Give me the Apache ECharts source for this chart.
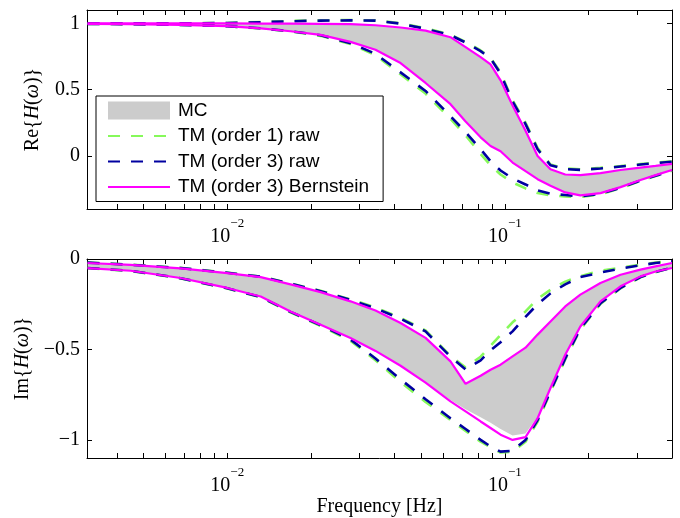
<!DOCTYPE html>
<html><head><meta charset="utf-8">
<script src="https://cdn.jsdelivr.net/npm/echarts@6/dist/echarts.min.js"></script>
<style>html,body{margin:0;padding:0;background:#fff}#c{width:680px;height:518px}</style>
</head><body><div id="c"></div>
<script>
// Frequency grid [Hz]
const freq = [0.00314, 0.00449, 0.00679, 0.0100, 0.0132, 0.0169, 0.0217, 0.0278, 0.0342, 0.0421, 0.0518, 0.0637, 0.0722, 0.0818, 0.0888, 0.0965, 0.1066, 0.1187, 0.1312, 0.146, 0.165, 0.187, 0.221, 0.261, 0.308, 0.349, 0.4];

// Real part
const reMcUp   = [1.0, 1.0, 0.999, 0.998, 0.997, 0.996, 0.995, 0.992, 0.983, 0.965, 0.94, 0.89, 0.815, 0.74, 0.685, 0.565, 0.375, 0.185, -0.005, -0.105, -0.143, -0.147, -0.132, -0.108, -0.09, -0.077, -0.062];
const reMcLo   = [0.996, 0.994, 0.989, 0.979, 0.963, 0.942, 0.914, 0.862, 0.803, 0.703, 0.553, 0.393, 0.263, 0.143, 0.078, 0.038, -0.047, -0.112, -0.172, -0.222, -0.272, -0.294, -0.277, -0.232, -0.18, -0.143, -0.104];
const reT1Up   = [1.0, 1.0, 1.0, 1.002, 1.01, 1.017, 1.022, 1.024, 1.022, 1.0, 0.962, 0.915, 0.86, 0.795, 0.74, 0.63, 0.42, 0.25, 0.06, -0.065, -0.095, -0.1, -0.09, -0.077, -0.062, -0.052, -0.04];
const reT1Lo   = [0.995, 0.993, 0.988, 0.978, 0.961, 0.938, 0.905, 0.843, 0.76, 0.615, 0.47, 0.28, 0.155, 0.015, -0.07, -0.14, -0.2, -0.245, -0.28, -0.298, -0.305, -0.31, -0.29, -0.243, -0.188, -0.152, -0.112];
const reT3Up   = [1.0, 1.0, 1.0, 1.001, 1.008, 1.015, 1.02, 1.022, 1.02, 0.997, 0.958, 0.91, 0.855, 0.79, 0.735, 0.62, 0.41, 0.24, 0.05, -0.07, -0.1, -0.105, -0.095, -0.08, -0.065, -0.055, -0.043];
const reT3Lo   = [0.995, 0.993, 0.988, 0.978, 0.962, 0.94, 0.91, 0.85, 0.77, 0.63, 0.49, 0.3, 0.18, 0.05, -0.04, -0.11, -0.17, -0.215, -0.26, -0.285, -0.295, -0.305, -0.285, -0.24, -0.185, -0.15, -0.11];
const reBernUp = [1.0, 1.0, 1.0, 0.999, 0.998, 0.997, 0.996, 0.993, 0.985, 0.968, 0.945, 0.895, 0.82, 0.745, 0.69, 0.57, 0.38, 0.19, 0.0, -0.1, -0.14, -0.145, -0.13, -0.106, -0.088, -0.075, -0.06];
const reBernLo = [0.995, 0.993, 0.988, 0.978, 0.962, 0.94, 0.912, 0.86, 0.8, 0.7, 0.55, 0.39, 0.26, 0.14, 0.075, 0.035, -0.05, -0.115, -0.175, -0.225, -0.275, -0.297, -0.28, -0.235, -0.182, -0.145, -0.106];

// Imaginary part
const imMcUp   = [-0.022, -0.033, -0.052, -0.078, -0.1, -0.14, -0.183, -0.234, -0.285, -0.354, -0.436, -0.566, -0.686, -0.645, -0.612, -0.584, -0.538, -0.49, -0.418, -0.345, -0.262, -0.197, -0.133, -0.087, -0.059, -0.041, -0.022];
const imMcLo   = [-0.05, -0.065, -0.105, -0.16, -0.207, -0.29, -0.363, -0.437, -0.508, -0.59, -0.683, -0.78, -0.83, -0.875, -0.905, -0.94, -0.975, -0.965, -0.87, -0.71, -0.527, -0.372, -0.233, -0.15, -0.095, -0.068, -0.049];
const imT1Up   = [-0.019, -0.031, -0.049, -0.075, -0.097, -0.135, -0.176, -0.223, -0.268, -0.325, -0.395, -0.535, -0.6, -0.54, -0.48, -0.42, -0.35, -0.29, -0.22, -0.17, -0.125, -0.095, -0.065, -0.048, -0.032, -0.02, -0.012];
const imT1Lo   = [-0.05, -0.066, -0.107, -0.163, -0.212, -0.295, -0.37, -0.452, -0.56, -0.68, -0.79, -0.89, -0.95, -1.01, -1.04, -1.07, -1.065, -1.01, -0.9, -0.735, -0.555, -0.39, -0.248, -0.162, -0.101, -0.073, -0.048];
const imT3Up   = [-0.02, -0.032, -0.05, -0.076, -0.098, -0.136, -0.178, -0.226, -0.272, -0.33, -0.4, -0.54, -0.61, -0.56, -0.505, -0.46, -0.4, -0.32, -0.25, -0.19, -0.14, -0.1, -0.075, -0.053, -0.035, -0.022, -0.012];
const imT3Lo   = [-0.05, -0.065, -0.106, -0.162, -0.21, -0.292, -0.366, -0.445, -0.55, -0.665, -0.775, -0.88, -0.94, -1.0, -1.036, -1.065, -1.06, -1.0, -0.89, -0.73, -0.55, -0.385, -0.245, -0.16, -0.1, -0.072, -0.047];
const imBernUp = [-0.022, -0.033, -0.052, -0.078, -0.1, -0.14, -0.183, -0.234, -0.285, -0.354, -0.436, -0.566, -0.69, -0.645, -0.612, -0.584, -0.538, -0.49, -0.418, -0.345, -0.262, -0.197, -0.133, -0.087, -0.059, -0.041, -0.022];
const imBernLo = [-0.05, -0.065, -0.105, -0.16, -0.207, -0.29, -0.363, -0.437, -0.508, -0.59, -0.683, -0.787, -0.842, -0.898, -0.934, -0.971, -1.0, -0.985, -0.88, -0.713, -0.529, -0.373, -0.234, -0.151, -0.096, -0.069, -0.05];

// Axes
const xMin = 0.003125, xMax = 0.4;
const xLabelVals = [0.01, 0.1];
const xTickVals = [0.004, 0.005, 0.006, 0.007, 0.008, 0.009, 0.01, 0.02, 0.03, 0.04, 0.05, 0.06, 0.07, 0.08, 0.09, 0.1, 0.2, 0.3, 0.4];
const reTicks = [0, 0.5, 1];
const imTicks = [-1, -0.5, 0];
const names = ['MC', 'TM (order 1) raw', 'TM (order 3) raw', 'TM (order 3) Bernstein'];

const SERIF = '"Liberation Serif","Times New Roman",serif';
const SANS = '"Liberation Sans",Arial,Helvetica,sans-serif';
const C_MC = '#cccccc', C_T1 = '#86f95a', C_T3 = '#0000a0', C_B = '#ff00ff';

function fmtY(v) { return (v < 0 ? '\u2212' : '') + Math.abs(v); }
function fmtX(v) { const e = Math.round(Math.log10(v)); return '{b|10}{s|' + (e < 0 ? '\u2212' : '') + Math.abs(e) + '}'; }

function xAxisDef(grid, pos, withLabels, name) {
  return {
    type: 'log', logBase: 10, gridIndex: grid, min: xMin, max: xMax, position: pos,
    axisLine: { show: true, onZero: false, lineStyle: { color: '#000', width: 1 } },
    axisTick: { show: true, inside: true, length: 5, customValues: xTickVals, lineStyle: { color: '#000', width: 1 } },
    axisLabel: {
      show: withLabels, customValues: xLabelVals, formatter: fmtX, margin: 8,
      rich: {
        b: { fontFamily: SERIF, fontSize: 20, color: '#000', lineHeight: 30, verticalAlign: 'bottom' },
        s: { fontFamily: SERIF, fontSize: 13, color: '#000', lineHeight: 12, verticalAlign: 'top' }
      }
    },
    splitLine: { show: false }, minorTick: { show: false },
    name: name || '', nameLocation: 'middle', nameGap: 38,
    nameTextStyle: { fontFamily: SERIF, fontSize: 20, color: '#000' }
  };
}
function yAxisDef(grid, pos, mn, mx, ticks, withLabels, name, gap) {
  return {
    type: 'value', gridIndex: grid, min: mn, max: mx, position: pos,
    axisLine: { show: true, onZero: false, lineStyle: { color: '#000', width: 1 } },
    axisTick: { show: true, inside: true, length: 5, customValues: ticks, lineStyle: { color: '#000', width: 1 } },
    axisLabel: { show: withLabels, customValues: ticks, formatter: fmtY, margin: 7, fontFamily: SERIF, fontSize: 20, color: '#000' },
    splitLine: { show: false },
    name: name || '', nameLocation: 'middle', nameGap: gap || 40, nameRotate: 90,
    nameTextStyle: { fontFamily: SERIF, fontSize: 20, color: '#000',
      rich: { i: { fontFamily: SERIF, fontSize: 20, fontStyle: 'italic', color: '#000' } } }
  };
}

function band(name, xi, yi, up, lo) {
  return {
    type: 'custom', name: name, xAxisIndex: xi, yAxisIndex: yi,
    itemStyle: { color: C_MC }, z: 1, silent: true,
    data: [[freq[0], up[0]]],
    renderItem: function (params, api) {
      if (params.dataIndex !== 0) return null;
      const pts = [];
      for (let i = 0; i < freq.length; i++) pts.push(api.coord([freq[i], up[i]]));
      for (let i = freq.length - 1; i >= 0; i--) pts.push(api.coord([freq[i], lo[i]]));
      return { type: 'polygon', shape: { points: pts }, style: { fill: C_MC, stroke: null } };
    }
  };
}
function line(name, xi, yi, vals, color, width, dash, z) {
  return {
    type: 'line', name: name, xAxisIndex: xi, yAxisIndex: yi,
    data: freq.map((f, i) => [f, vals[i]]),
    symbol: 'none', showSymbol: false, smooth: false, silent: true, z: z,
    lineStyle: { color: color, width: width, type: dash },
    itemStyle: { color: color }
  };
}

const series = [
  band(names[0], 0, 0, reMcUp, reMcLo),
  band(names[0], 2, 2, imMcUp, imMcLo),
  line(names[1], 0, 0, reT1Up, C_T1, 2.6, [12, 11], 2),
  line(names[1], 0, 0, reT1Lo, C_T1, 2.6, [12, 11], 2),
  line(names[1], 2, 2, imT1Up, C_T1, 2.6, [12, 11], 2),
  line(names[1], 2, 2, imT1Lo, C_T1, 2.6, [12, 11], 2),
  line(names[2], 0, 0, reT3Up, C_T3, 2.6, [12, 11], 3),
  line(names[2], 0, 0, reT3Lo, C_T3, 2.6, [12, 11], 3),
  line(names[2], 2, 2, imT3Up, C_T3, 2.6, [12, 11], 3),
  line(names[2], 2, 2, imT3Lo, C_T3, 2.6, [12, 11], 3),
  line(names[3], 0, 0, reBernUp, C_B, 2.2, 'solid', 4),
  line(names[3], 0, 0, reBernLo, C_B, 2.2, 'solid', 4),
  line(names[3], 2, 2, imBernUp, C_B, 2.2, 'solid', 4),
  line(names[3], 2, 2, imBernLo, C_B, 2.2, 'solid', 4)
];

const noSym = { opacity: 0 };
const chart = echarts.init(document.getElementById('c'), null, { renderer: 'canvas' });
chart.setOption({
  animation: false,
  backgroundColor: '#fff',
  grid: [
    { left: 87, top: 10, width: 585, height: 199 },
    { left: 87, top: 259, width: 585, height: 199 }
  ],
  xAxis: [
    xAxisDef(0, 'bottom', true),
    xAxisDef(0, 'top', false),
    xAxisDef(1, 'bottom', true, 'Frequency [Hz]'),
    xAxisDef(1, 'top', false)
  ],
  yAxis: [
    yAxisDef(0, 'left', -0.4, 1.1, reTicks, true, 'Re{{i|H}({i|ω})}', 44),
    yAxisDef(0, 'right', -0.4, 1.1, reTicks, false),
    yAxisDef(1, 'left', -1.1, 0, imTicks, true, 'Im{{i|H}({i|ω})}', 50),
    yAxisDef(1, 'right', -1.1, 0, imTicks, false)
  ],
  legend: {
    show: true, orient: 'vertical', left: 96, top: 96,
    itemWidth: 62, itemHeight: 18, itemGap: 6.5,
    padding: [5, 14, 5, 11],
    backgroundColor: '#fff', borderColor: '#000', borderWidth: 1,
    selectedMode: false,
    textStyle: { fontFamily: SANS, fontSize: 19, color: '#000', lineHeight: 18, padding: [0, 0, 0, 3] },
    data: [
      { name: names[0], icon: 'rect' },
      { name: names[1], itemStyle: noSym },
      { name: names[2], itemStyle: noSym },
      { name: names[3], itemStyle: noSym }
    ]
  },
  series: series
});
</script></body></html>
